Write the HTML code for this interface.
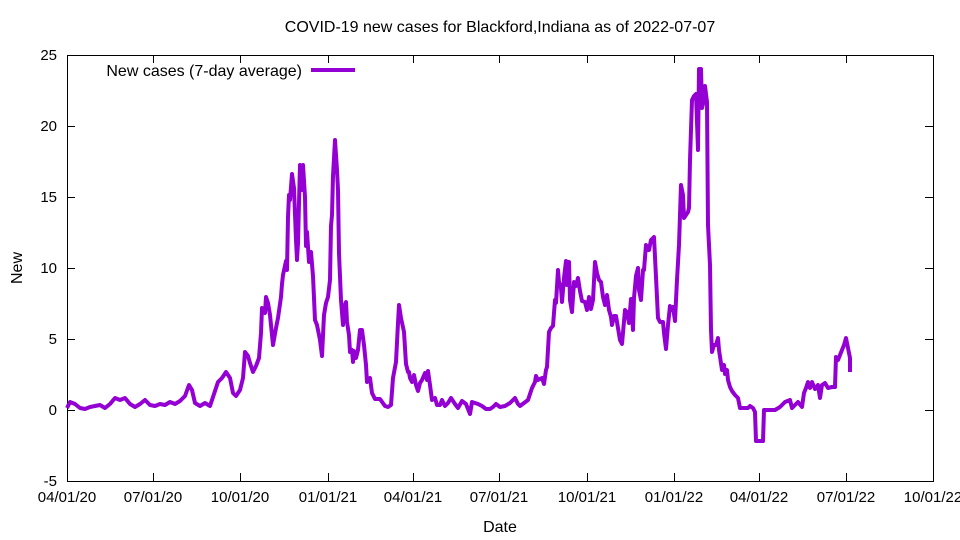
<!DOCTYPE html>
<html><head><meta charset="utf-8"><style>body{margin:0;background:#fff}svg{display:block}text{font-family:"Liberation Sans",sans-serif;font-size:15px;fill:#000}.big{font-size:16px}</style></head><body>
<svg width="960" height="540" viewBox="0 0 960 540">
<text class="big" x="500" y="32" text-anchor="middle">COVID-19 new cases for Blackford,Indiana as of 2022-07-07</text>
<rect x="67.5" y="55.5" width="866" height="426" fill="none" stroke="#000" stroke-width="1"/>
<g stroke="#000" stroke-width="1">
<path d="M67 410.5h8M933 410.5h-8M67 339.5h8M933 339.5h-8M67 268.5h8M933 268.5h-8M67 197.5h8M933 197.5h-8M67 126.5h8M933 126.5h-8M67 481.5h8M933 481.5h-8M67 55.5h8M933 55.5h-8"/>
<path d="M153.5 481v-8M240.5 481v-8M328.5 481v-8M413.5 481v-8M499.5 481v-8M587.5 481v-8M674.5 481v-8M759.5 481v-8M846.5 481v-8M153.5 55v8M240.5 55v8M328.5 55v8M413.5 55v8M499.5 55v8M587.5 55v8M674.5 55v8M759.5 55v8M846.5 55v8"/>
</g>
<g text-anchor="end">
<text x="57" y="60">25</text><text x="57" y="131">20</text><text x="57" y="202">15</text><text x="57" y="273">10</text><text x="57" y="344">5</text><text x="57" y="415">0</text><text x="57" y="486">-5</text>
</g>
<g text-anchor="middle">
<text x="67" y="502">04/01/20</text><text x="153" y="502">07/01/20</text><text x="240" y="502">10/01/20</text><text x="328" y="502">01/01/21</text><text x="413" y="502">04/01/21</text><text x="499" y="502">07/01/21</text><text x="587" y="502">10/01/21</text><text x="674" y="502">01/01/22</text><text x="759" y="502">04/01/22</text><text x="846" y="502">07/01/22</text><text x="933" y="502">10/01/22</text>
<text class="big" x="500" y="532">Date</text>
</g>
<text class="big" transform="translate(22,268) rotate(-90)" text-anchor="middle">New</text>
<text class="big" x="302" y="76" text-anchor="end">New cases (7-day average)</text>
<path d="M311 70h44" stroke="#9400d3" stroke-width="4"/>
<polyline fill="none" stroke="#9400d3" stroke-width="4" stroke-linejoin="round" points="67,408 70,402 75,404 80,408 85,409 90,407 95,406 100,405 105,408 110,404 115,398 120,400 125,398 130,404 135,407 140,404 145,400 150,405 155,406 160,404 165,405 170,402 175,404 180,401 185,396 189,385 192,390 195,403 200,406 205,403 210,406 214,394 218,382 222,378 226,372 230,378 233,393 236,396 240,390 243,378 245,352 248,356 250,363 253,372 256,366 259,358 261,333 262,308 265,313 266,297 268,303 270,315 273,345 276,328 278,318 281,297 282,284 283,275 286,261 287,270 288,217 289,195 290,200 292,174 294,188 296,240 297,260 298,243 299,203 300,165 302,190 303,165 305,197 306,246 307,232 309,262 311,252 313,276 315,320 317,325 318,330 320,340 322,356 324,315 326,303 328,297 330,280 331,226 332,215 333,176 335,140 337,170 338,190 339,253 341,300 343,325 344,308 346,302 347,322 349,335 350,352 352,350 353,362 354,351 356,358 358,350 360,330 362,330 364,345 366,365 367,382 370,378 372,393 375,399 380,399 385,406 388,407 391,405 393,378 396,362 398,323 399,305 401,318 404,332 406,364 408,372 409,372 410,378 412,382 414,375 416,385 418,391 420,383 422,380 425,373 427,380 428,371 430,385 432,400 435,398 437,405 440,405 442,400 445,406 448,403 451,398 455,404 458,408 462,401 466,404 470,414 472,402 475,403 478,404 482,406 486,409 490,409 493,407 496,404 500,407 505,406 510,403 515,398 518,404 520,406 524,403 528,400 532,388 535,382 536,376 538,380 542,378 544,384 546,370 547,367 549,332 551,328 553,326 555,300 556,303 558,270 559,282 561,288 562,302 564,278 566,261 567,285 569,262 570,300 572,312 574,282 576,286 578,278 580,291 582,301 585,302 587,310 589,297 591,309 593,300 595,262 597,273 599,280 601,282 603,297 605,305 607,295 609,310 611,317 612,325 614,316 616,316 618,328 620,340 622,344 625,310 627,312 629,323 631,299 633,330 634,298 636,276 638,268 639,290 641,300 643,270 644,270 646,245 647,250 649,250 651,240 654,237 656,277 658,318 660,322 663,322 664,333 666,349 668,325 670,306 671,310 673,307 675,321 677,280 679,245 681,185 683,195 684,218 686,215 688,212 689,208 690,160 692,100 694,96 696,94 698,150 699,69 701,69 702,108 704,100 705,86 707,102 708,225 710,265 711,330 712,352 714,345 716,345 718,338 719,350 722,370 724,365 725,374 727,370 728,380 730,387 732,391 735,395 738,398 740,408 745,408 748,408 750,406 753,408 755,412 756,441 760,441 763,441 764,410 770,410 775,410 780,407 785,402 790,400 792,408 795,405 798,402 802,407 804,393 806,388 808,382 810,388 812,382 815,389 818,385 820,398 822,385 825,383 828,388 832,387 835,387 836,357 838,360 840,355 842,350 844,345 846,338 848,348 850,358 850,372"/>
</svg>
</body></html>
